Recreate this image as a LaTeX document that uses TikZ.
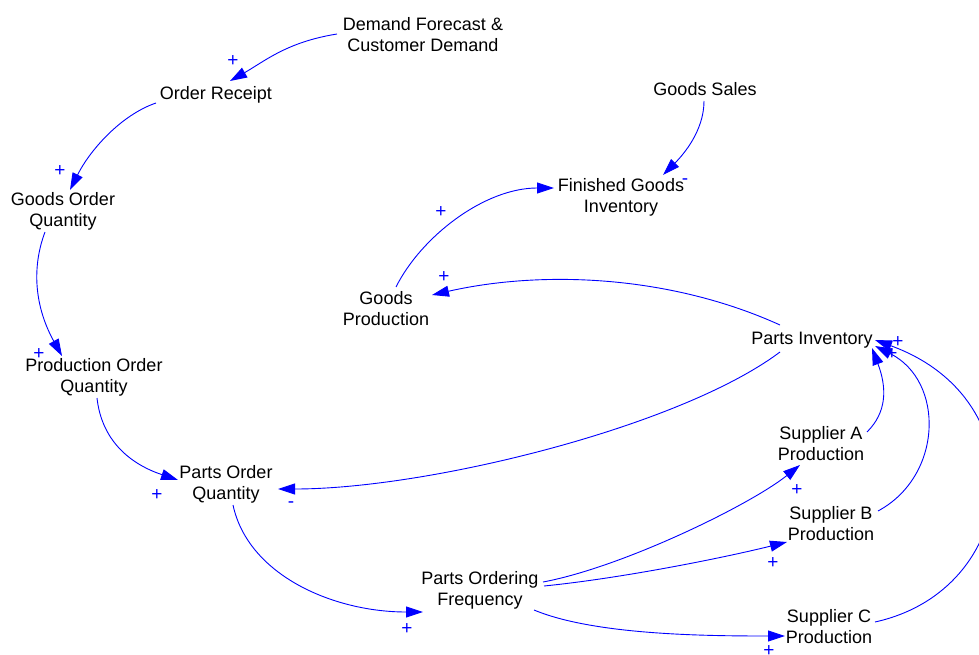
\documentclass[tikz,border=0pt]{standalone}
\usepackage{fontspec}
\setmainfont{Liberation Sans}
\usetikzlibrary{arrows.meta}
\definecolor{linkblue}{RGB}{0,0,255}
\begin{document}
\begin{tikzpicture}[x=1pt,y=-1pt,
  vname/.style={align=center, font=\fontsize{18}{21}\selectfont, inner sep=0pt, text=black},
  pol/.style={font=\fontsize{19}{19}\selectfont, text=linkblue, inner sep=0pt},
  link/.style={draw=linkblue, line width=0.9pt, -{Triangle[length=17pt,width=11pt]}, fill=none}]
\useasboundingbox (0,0) rectangle (979,655);
\clip (0,0) rectangle (979,655);

% variables
\node[vname] (dem)  at (423,35)  {Demand Forecast \&\\Customer Demand};
\node[vname] (ord)  at (216,95)  {Order Receipt};
\node[vname] (goq)  at (63,211)  {Goods Order\\Quantity};
\node[vname] (poq)  at (94,377)  {Production Order\\Quantity};
\node[vname] (paoq) at (226,484) {Parts Order\\Quantity};
\node[vname] (pof)  at (480,590) {Parts Ordering\\Frequency};
\node[vname] (gs)   at (705,89)  {Goods Sales};
\node[vname] (fgi)  at (621,197) {Finished Goods\\Inventory};
\node[vname] (gp)   at (386,309) {Goods\\Production};
\node[vname] (pi)   at (812,340) {Parts Inventory};
\node[vname] (sa)   at (821,444) {Supplier A\\Production};
\node[vname] (sb)   at (831,524) {Supplier B\\Production};
\node[vname] (sc)   at (829,627) {Supplier C\\Production};

% links
\draw[link] ([shift={(-86,-1)}]dem.center) .. controls +(-50,8) and +(35,-20) .. ([shift={(14,-14)}]ord.center);
\draw[link] ([shift={(-60,8)}]ord.center) .. controls +(-35,12) and +(20,-40) .. ([shift={(7,-21)}]goq.center);
\draw[link] ([shift={(-18,21)}]goq.center) .. controls +(-15,40) and +(-25,-45) .. ([shift={(-32,-21)}]poq.center);
\draw[link] ([shift={(3,21)}]poq.center) .. controls +(5,45) and +(-45,-15) .. ([shift={(-48,-4)}]paoq.center);
\draw[link] ([shift={(-32,12)}]pi.center) .. controls +(-100,75) and +(150,0) .. ([shift={(52,5)}]paoq.center);
\draw[link] ([shift={(7,21)}]paoq.center) .. controls +(15,70) and +(-90,0) .. ([shift={(-57,22)}]pof.center);
\draw[link] ([shift={(-1,12)}]gs.center) .. controls +(0,30) and +(20,-20) .. ([shift={(42,-22)}]fgi.center);
\draw[link] ([shift={(10,-22)}]gp.center) .. controls +(25,-50) and +(-70,0) .. ([shift={(-67,-9)}]fgi.center);
\draw[link] ([shift={(-32,-15)}]pi.center) .. controls +(-110,-50) and +(110,-25) .. ([shift={(46,-14)}]gp.center);
\draw[link] ([shift={(46,-12)}]sa.center) .. controls +(20,-20) and +(15,40) .. ([shift={(60,8)}]pi.center);
\draw[link] ([shift={(47,-13)}]sb.center) .. controls +(65,-35) and +(70,35) .. ([shift={(63,6)}]pi.center);
\draw[link] ([shift={(46,-5)}]sc.center) .. controls +(145,-32) and +(165,60) .. ([shift={(63,0)}]pi.center);
\draw[link] ([shift={(63,-8)}]pof.center) .. controls +(80,-15) and +(-50,40) .. ([shift={(-21,21)}]sa.center);
\draw[link] ([shift={(64,-4)}]pof.center) .. controls +(80,-8) and +(-60,15) .. ([shift={(-44,18)}]sb.center);
\draw[link] ([shift={(54,20)}]pof.center) .. controls +(60,25) and +(-80,0) .. ([shift={(-44,9)}]sc.center);

% polarities
\node[pol] (p1)  at (233,61)  {+};
\node[pol] (p2)  at (60,171)  {+};
\node[pol] (p3)  at (39,354)  {+};
\node[pol] (p4)  at (157,495) {+};
\node[pol] (p5)  at (291,505) {-};
\node[pol] (p6)  at (407,629) {+};
\node[pol] (p7)  at (685,182) {-};
\node[pol] (p8)  at (441,212) {+};
\node[pol] (p9)  at (444,277) {+};
\node[pol] (p10) at (898,342) {+};
\node[pol] (p11) at (892,354) {+};
\node[pol] (p13) at (797,490) {+};
\node[pol] (p14) at (773,563) {+};
\node[pol] (p15) at (769,651) {+};
\end{tikzpicture}
\end{document}
